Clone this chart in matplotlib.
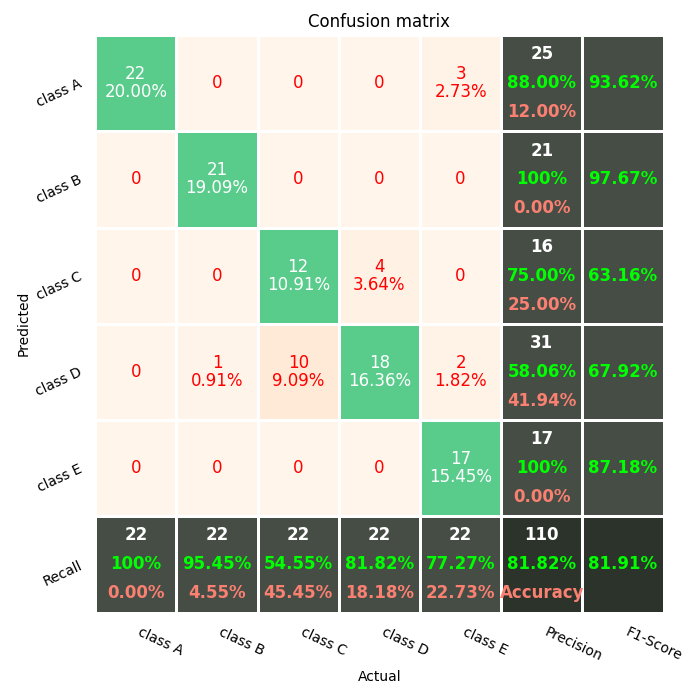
import numpy as np
import matplotlib
matplotlib.use("Agg")
import matplotlib.pyplot as plt
from matplotlib.transforms import ScaledTranslation

classes = ["class A", "class B", "class C", "class D", "class E"]
row_labels = classes + ["Recall"]
col_labels = classes + ["Precision", "F1-Score"]
# rows = predicted, columns = actual
counts = np.array([
    [22, 0, 0, 0, 3],
    [0, 21, 0, 0, 0],
    [0, 0, 12, 4, 0],
    [0, 1, 10, 18, 2],
    [0, 0, 0, 0, 17],
])

n = counts.shape[0]
total = counts.sum()
row_tot = counts.sum(axis=1)
col_tot = counts.sum(axis=0)
diag = np.diag(counts)
precision = diag / row_tot * 100
recall = diag / col_tot * 100
f1 = 2 * precision * recall / (precision + recall)
accuracy = diag.sum() / total * 100
macro_f1 = f1.mean()

cmap = plt.get_cmap("Oranges")
norm = matplotlib.colors.Normalize(vmin=0, vmax=total)
nr, nc = n + 1, n + 2
colors = np.zeros((nr, nc, 4))
for i in range(n):
    for j in range(n):
        colors[i, j] = cmap(norm(counts[i, j]))
        if i == j:
            colors[i, j] = [0.35, 0.8, 0.55, 1.0]
tot_col = [0.27, 0.30, 0.27, 1.0]
corner = [0.17, 0.20, 0.17, 1.0]
colors[:n, n] = tot_col
colors[:n, n + 1] = tot_col
colors[n, :n] = tot_col
colors[n, n] = corner
colors[n, n + 1] = corner

fig = plt.figure(figsize=(7, 7), dpi=100)
ax = fig.add_axes([0.136, 0.125, 0.812, 0.825])
ax.pcolormesh(np.arange(nc + 1), np.arange(nr + 1), colors,
              edgecolors="white", linewidth=0.8)
ax.set_xlim(0, nc)
ax.set_ylim(nr, 0)

fz = 12
def pct(v):
    return "100%" if abs(v - 100) < 1e-9 else "%.2f%%" % v

for i in range(n):
    for j in range(n):
        v = counts[i, j]
        if v > 0:
            txt = "%d\n%.2f%%" % (v, v / total * 100)
        else:
            txt = "0"
        c = "w" if i == j else "r"
        ax.text(j + 0.5, i + 0.5, txt, ha="center", va="center",
                color=c, fontsize=fz, linespacing=1.0)

def total_cell(x, y, top, ok, err):
    kw = dict(ha="center", va="center", fontsize=fz, fontweight="bold")
    ax.text(x, y - 0.3, top, color="w", **kw)
    ax.text(x, y, ok, color="lime", **kw)
    ax.text(x, y + 0.3, err, color="salmon", **kw)

for i in range(n):
    total_cell(n + 0.5, i + 0.5, "%d" % row_tot[i], pct(precision[i]), pct(100 - precision[i]))
    ax.text(n + 1.5, i + 0.5, pct(f1[i]), ha="center", va="center",
            color="lime", fontsize=fz, fontweight="bold")
for j in range(n):
    total_cell(j + 0.5, n + 0.5, "%d" % col_tot[j], pct(recall[j]), pct(100 - recall[j]))
total_cell(n + 0.5, n + 0.5, "%d" % total, pct(accuracy), "Accuracy")
ax.text(n + 1.5, n + 0.5, pct(macro_f1), ha="center", va="center",
        color="lime", fontsize=fz, fontweight="bold")

ax.set_xticks(np.arange(nc) + 0.5)
ax.set_yticks(np.arange(nr) + 0.5)
ax.set_xticklabels(col_labels, rotation=-25, ha="left", va="top",
                   rotation_mode="anchor", fontsize=10)
ax.set_yticklabels(row_labels, rotation=25, ha="right", va="center",
                   rotation_mode="anchor", fontsize=10)
ax.tick_params(length=0, pad=10)
off = ScaledTranslation(6 / 100, 1 / 100, fig.dpi_scale_trans)
for lab in ax.get_xticklabels():
    lab.set_transform(lab.get_transform() + off)
for s in ax.spines.values():
    s.set_visible(False)
ax.set_title("Confusion matrix", fontsize=12)
ax.set_xlabel("Actual", labelpad=4)
ax.set_ylabel("Predicted", labelpad=2)

fig.savefig("out.png", dpi=100)
